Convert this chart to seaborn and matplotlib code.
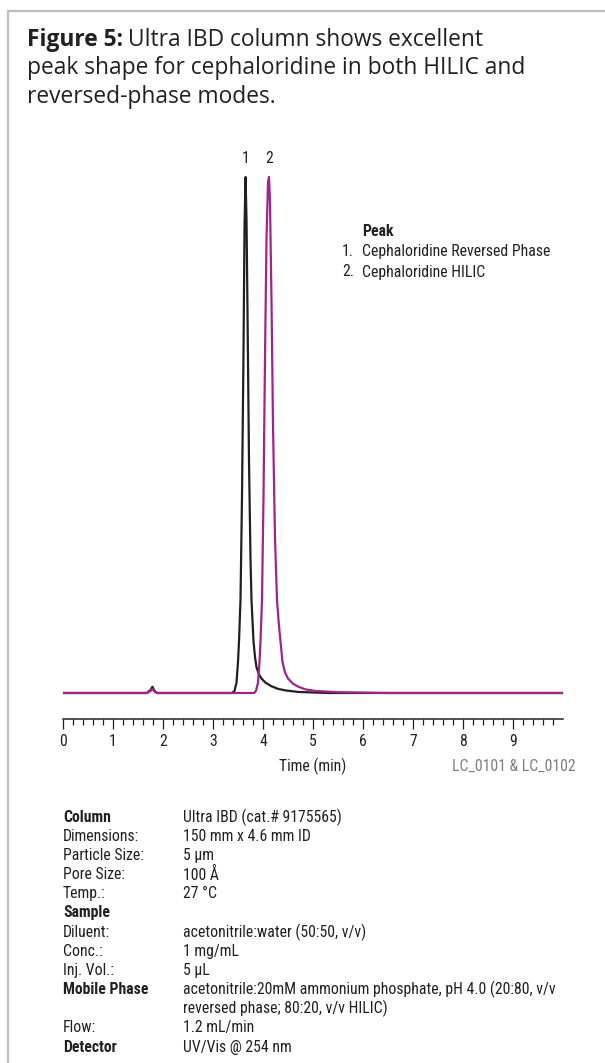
import numpy as np
import pandas as pd
import matplotlib
matplotlib.use("Agg")
import matplotlib.pyplot as plt
import seaborn as sns
from matplotlib import font_manager
from matplotlib.lines import Line2D
from matplotlib.ticker import FixedLocator

# ---------------- data ----------------
series_names = ["Cephaloridine Reversed Phase", "Cephaloridine HILIC"]
peak_numbers = ["1", "2"]
peak_times = [3.65, 4.12]

rp_time = [0.0, 1.68, 1.75, 1.79, 1.83, 1.88, 3.38, 3.43, 3.47, 3.50, 3.52, 3.55,
           3.58, 3.61, 3.63, 3.65, 3.67, 3.69, 3.72, 3.75, 3.77, 3.81, 3.84, 3.87,
           3.92, 3.97, 4.05, 4.17, 4.30, 4.45, 4.71, 5.3, 10.0]
rp_signal = [0.0, 0.0, 0.006, 0.012, 0.004, 0.0, 0.0, 0.004, 0.02, 0.06, 0.10, 0.18,
             0.38, 0.66, 0.90, 1.0, 0.92, 0.74, 0.45, 0.26, 0.18, 0.10, 0.07, 0.05,
             0.036, 0.028, 0.02, 0.013, 0.008, 0.005, 0.002, 0.0, 0.0]

hilic_time = [0.0, 1.68, 1.75, 1.79, 1.83, 1.88, 3.82, 3.86, 3.90, 3.93, 3.95, 3.98,
              4.01, 4.04, 4.07, 4.10, 4.12, 4.14, 4.17, 4.20, 4.24, 4.28, 4.32, 4.35,
              4.39, 4.44, 4.50, 4.60, 4.71, 4.85, 5.04, 5.5, 6.5, 10.0]
hilic_signal = [0.0, 0.0, 0.004, 0.008, 0.003, 0.0, 0.0, 0.004, 0.02, 0.06, 0.10, 0.18,
                0.38, 0.65, 0.88, 0.99, 1.0, 0.95, 0.76, 0.52, 0.30, 0.18, 0.13, 0.10,
                0.06, 0.04, 0.028, 0.018, 0.012, 0.007, 0.004, 0.0015, 0.0, 0.0]

x_major_ticks = [0, 1, 2, 3, 4, 5, 6, 7, 8, 9]
x_minor_ticks = [round(0.2 * i, 1) for i in range(50) if i % 5 != 0]

title_bold = "Figure 5:"
title_lines = ["Ultra IBD column shows excellent",
               "peak shape for cephaloridine in both HILIC and",
               "reversed-phase modes."]
x_label = "Time (min)"
file_note = "LC_0101 & LC_0102"
legend_title = "Peak"

param_labels = ["Column", "Dimensions:", "Particle Size:", "Pore Size:", "Temp.:",
                "Sample", "Diluent:", "Conc.:", "Inj. Vol.:", "Mobile Phase", "",
                "Flow:", "Detector"]
param_values = ["Ultra IBD (cat.# 9175565)", "150 mm x 4.6 mm ID", "5 µm", "100 Å",
                "27 °C", "", "acetonitrile:water (50:50, v/v)", "1 mg/mL", "5 µL",
                "acetonitrile:20mM ammonium phosphate, pH 4.0 (20:80, v/v",
                "reversed phase; 80:20, v/v HILIC)", "1.2 mL/min", "UV/Vis @ 254 nm"]
bold_labels = {"Column", "Sample", "Mobile Phase", "Detector"}

df = pd.concat([
    pd.DataFrame({"time": rp_time, "signal": rp_signal, "series": series_names[0]}),
    pd.DataFrame({"time": hilic_time, "signal": hilic_signal, "series": series_names[1]}),
], ignore_index=True)

# ---------------- style ----------------
sns.set_theme(style="white")
W, H = 605, 1063
TEXT = "#231f20"
BLACK = "#231f20"
MAGENTA = "#a1228f"

names = {f.name for f in font_manager.fontManager.ttflist}
cond_family = None
for c in ["Roboto Condensed", "Liberation Sans Narrow", "Noto Sans Condensed",
          "Open Sans Condensed", "DejaVu Sans Condensed"]:
    if c in names:
        cond_family = c
        break
if cond_family is None:
    cond_family = "Roboto" if "Roboto" in names else "DejaVu Sans"
title_family = "Open Sans" if "Open Sans" in names else "DejaVu Sans"
plt.rcParams["font.family"] = [cond_family, "DejaVu Sans"]

fig = plt.figure(figsize=(W / 100, H / 100), dpi=100)
fig.patch.set_facecolor("white")
renderer = fig.canvas.get_renderer()


def fx(x):
    return x / W


def fy(y):
    return 1 - y / H


def fit_size(text, family, weight, target_px, start=12):
    t = fig.text(0, 0, text, family=family, weight=weight, size=start)
    w = t.get_window_extent(renderer).width
    t.remove()
    return start * target_px / w


cond_size = fit_size("Cephaloridine Reversed Phase", [cond_family, "DejaVu Sans"], "normal", 187)
cond_size = min(cond_size, 11.5)
title_size = fit_size(title_bold + " " + title_lines[0], title_family, "normal", 453, 16)

# ---------------- axes ----------------
ax_bottom_px, ax_top_px = 719, 170
ax = fig.add_axes([fx(63), fy(ax_bottom_px), fx(500), (ax_bottom_px - ax_top_px) / H])
ax.set_facecolor("none")
sns.lineplot(data=df, x="time", y="signal", hue="series", hue_order=series_names,
             palette=[BLACK, MAGENTA], estimator=None, sort=False, linewidth=1.6,
             legend=False, ax=ax)
ax.set_xlim(0, 10)
ax.set_ylim(-0.0504, 1.0136)
ax.set_yticks([])
ax.set_xlabel("")
ax.set_ylabel("")
for s in ["left", "top", "right"]:
    ax.spines[s].set_visible(False)
ax.spines["bottom"].set_color(BLACK)
ax.spines["bottom"].set_linewidth(1.1)
ax.xaxis.set_major_locator(FixedLocator(x_major_ticks))
ax.xaxis.set_minor_locator(FixedLocator(x_minor_ticks))
ax.set_xticklabels([str(v) for v in x_major_ticks])
ax.tick_params(axis="x", which="major", direction="out", length=7.5, width=0.9,
               color=BLACK, labelsize=cond_size, labelcolor=TEXT, pad=3.5, bottom=True)
ax.tick_params(axis="x", which="minor", direction="out", length=4, width=0.9,
               color=BLACK, bottom=True)

for num, t in zip(peak_numbers, peak_times):
    ax.text(t, 1.035, num, ha="center", va="center", fontsize=cond_size, color=TEXT,
            clip_on=False)

# ---------------- legend text ----------------
fig.text(fx(362), fy(232), legend_title, ha="left", va="center", fontsize=cond_size,
         weight="bold", color=TEXT)
for i, name in enumerate(series_names):
    y = 252 + 20 * i
    fig.text(fx(342), fy(y), f"{i + 1}.", ha="left", va="center", fontsize=cond_size, color=TEXT)
    fig.text(fx(362), fy(y), name, ha="left", va="center", fontsize=cond_size, color=TEXT)

# ---------------- axis notes ----------------
fig.text(fx(313), fy(766), x_label, ha="center", va="center", fontsize=cond_size, color=TEXT)
fig.text(fx(576), fy(766), file_note, ha="right", va="center", fontsize=cond_size, color="#7f7f7f")

# ---------------- title ----------------
tb = fig.text(fx(27), fy(46), title_bold, ha="left", va="baseline", fontsize=title_size,
              weight="bold", family=title_family, color=TEXT)
bw = tb.get_window_extent(renderer).width
fig.text(fx(27 + bw + title_size * 0.3), fy(46), title_lines[0], ha="left", va="baseline",
         fontsize=title_size, family=title_family, color=TEXT)
for i, line in enumerate(title_lines[1:]):
    fig.text(fx(27), fy(74 + 29 * i), line, ha="left", va="baseline",
             fontsize=title_size, family=title_family, color=TEXT)

# ---------------- parameters ----------------
for i, (lab, val) in enumerate(zip(param_labels, param_values)):
    y = 817 + 19.17 * i
    if lab:
        fig.text(fx(63), fy(y), lab, ha="left", va="center", fontsize=cond_size,
                 weight="bold" if lab in bold_labels else "normal", color=TEXT)
    if val:
        fig.text(fx(183), fy(y), val, ha="left", va="center", fontsize=cond_size, color=TEXT)

# ---------------- frame ----------------
fig.add_artist(Line2D([fx(8), 1], [fy(10.5), fy(10.5)], transform=fig.transFigure,
                      color="#bdbdbd", linewidth=1.6))
fig.add_artist(Line2D([fx(8), fx(8)], [fy(10.5), 0], transform=fig.transFigure,
                      color="#bdbdbd", linewidth=1.6))

fig.savefig("out.png", dpi=100, facecolor="white")
